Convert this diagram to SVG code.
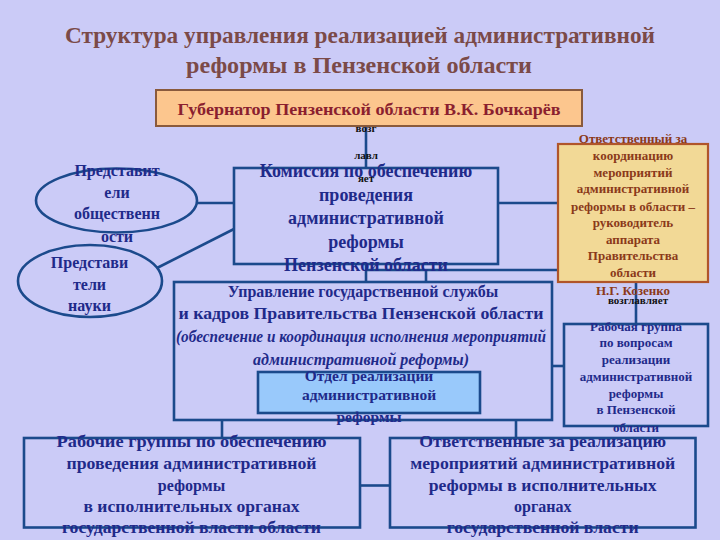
<svg xmlns="http://www.w3.org/2000/svg" width="720" height="540" viewBox="0 0 720 540">
<style>
text{font-family:"Liberation Serif","DejaVu Serif",serif;text-anchor:middle;dominant-baseline:central;font-weight:bold}
.title{fill:#7b4a48;font-size:23px}
.gov{fill:#8b1f2f;font-size:17px}
.blue{fill:#1f2a8a}
.brn{fill:#8b3a1a;font-size:13px}
.blk{fill:#111;font-size:11px}
.box{fill:none;stroke:#1b4a8c;stroke-width:2.6}
.ln{stroke:#1b4a8c;stroke-width:2.6;fill:none}
</style>
<rect width="720" height="540" fill="#cbcbf7"/>
<g id="title">
<text class="title" x="360" y="35" textLength="590" lengthAdjust="spacingAndGlyphs">Структура управления реализацией административной</text>
<text class="title" x="359" y="65" textLength="346" lengthAdjust="spacingAndGlyphs">реформы в Пензенской области</text>
</g>
<g id="connectors">
<line class="ln" x1="366" y1="126" x2="366" y2="168"/>
<line class="ln" x1="197" y1="203" x2="234" y2="203"/>
<line class="ln" x1="157" y1="268" x2="234" y2="229"/>
<line class="ln" x1="498" y1="203" x2="558" y2="203"/>
<line class="ln" x1="366" y1="264" x2="366" y2="282"/>
<line class="ln" x1="366" y1="270" x2="558" y2="270"/>
<line class="ln" x1="426" y1="270" x2="426" y2="282"/>
<line class="ln" x1="636" y1="282" x2="636" y2="324"/>
<line class="ln" x1="552" y1="366" x2="564" y2="366"/>
<line class="ln" x1="222" y1="420" x2="222" y2="438"/>
<line class="ln" x1="516" y1="420" x2="516" y2="438"/>
<line class="ln" x1="360" y1="485.5" x2="390" y2="485.5"/>
</g>
<g id="governor">
<rect x="156" y="90" width="426" height="36" fill="#fcc68e" stroke="#8a5a3c" stroke-width="2"/>
<text class="gov" x="369" y="109" textLength="383" lengthAdjust="spacingAndGlyphs">Губернатор Пензенской области В.К. Бочкарёв</text>
</g>
<g id="commission">
<rect class="box" x="234" y="168" width="264" height="96"/>
<text class="blue" font-size="18" x="366" y="171">Комиссия по обеспечению</text>
<text class="blue" font-size="18" x="366" y="195">проведения</text>
<text class="blue" font-size="18" x="366" y="218">административной</text>
<text class="blue" font-size="18" x="366" y="242">реформы</text>
<text class="blue" font-size="18" x="366" y="265">Пензенской области</text>
</g>
<g id="vozglavl-gov">
<text class="blk" x="366" y="128">возг</text>
<text class="blk" x="366" y="155">лавл</text>
<text class="blk" x="366" y="178">яет</text>
</g>
<g id="public">
<ellipse class="box" cx="116.5" cy="200.5" rx="80.5" ry="32"/>
<text class="blue" font-size="16" x="117" y="170">Представит</text>
<text class="blue" font-size="16" x="117" y="192">ели</text>
<text class="blue" font-size="16" x="117" y="213.5">общественн</text>
<text class="blue" font-size="16" x="117" y="236">ости</text>
</g>
<g id="science">
<ellipse class="box" cx="90" cy="281" rx="72" ry="36"/>
<text class="blue" font-size="16" x="89.5" y="262">Представи</text>
<text class="blue" font-size="16" x="89.5" y="284">тели</text>
<text class="blue" font-size="16" x="89.5" y="305.5">науки</text>
</g>
<g id="coordinator">
<rect x="558" y="144" width="150" height="138" fill="#f2d996" stroke="#b0552a" stroke-width="2.2"/>
<text class="brn" x="633" y="138">Ответственный за</text>
<text class="brn" x="633" y="155.5">координацию</text>
<text class="brn" x="633" y="172">мероприятий</text>
<text class="brn" x="633" y="188.7">административной</text>
<text class="brn" x="633" y="206">реформы в области –</text>
<text class="brn" x="633" y="222.4">руководитель</text>
<text class="brn" x="633" y="239">аппарата</text>
<text class="brn" x="633" y="255.5">Правительства</text>
<text class="brn" x="633" y="272.7">области</text>
<text class="brn" x="633" y="290">Н.Г. Козенко</text>
<text class="blk" font-size="10" x="638" y="300">возглавляет</text>
</g>
<g id="upravlenie">
<rect class="box" x="174" y="282" width="378" height="138"/>
<text class="blue" font-size="16" x="363" y="291">Управление государственной службы</text>
<text class="blue" font-size="16" x="361" y="313" textLength="365" lengthAdjust="spacingAndGlyphs">и кадров Правительства Пензенской области</text>
<text class="blue" font-size="16" font-style="italic" font-weight="normal" x="361" y="336" textLength="370" lengthAdjust="spacingAndGlyphs">(обеспечение и координация исполнения мероприятий</text>
<text class="blue" font-size="16" font-style="italic" font-weight="normal" x="361" y="359" textLength="216" lengthAdjust="spacingAndGlyphs">административной реформы)</text>
</g>
<g id="otdel">
<rect x="258" y="372" width="222" height="41" fill="#99c9fb" stroke="#1b4a8c" stroke-width="2.6"/>
<text class="blue" font-size="15.5" x="369" y="375">Отдел реализации</text>
<text class="blue" font-size="15.5" x="369" y="394">административной</text>
<text class="blue" font-size="15.5" x="369" y="416.5">реформы</text>
</g>
<g id="workgroup">
<rect class="box" x="564" y="324" width="144" height="102"/>
<text class="blue" font-size="13" x="636" y="326">Рабочая группа</text>
<text class="blue" font-size="13" x="636" y="342.6">по вопросам</text>
<text class="blue" font-size="13" x="636" y="359">реализации</text>
<text class="blue" font-size="13" x="636" y="376">административной</text>
<text class="blue" font-size="13" x="636" y="393">реформы</text>
<text class="blue" font-size="13" x="636" y="409.8">в Пензенской</text>
<text class="blue" font-size="13" x="636" y="427">области</text>
</g>
<g id="groups-bottom">
<rect class="box" x="24" y="438" width="336" height="89.5"/>
<text class="blue" font-size="16" x="191.5" y="441.5" textLength="270" lengthAdjust="spacingAndGlyphs">Рабочие группы по обеспечению</text>
<text class="blue" font-size="16" x="191.5" y="463" textLength="250" lengthAdjust="spacingAndGlyphs">проведения административной</text>
<text class="blue" font-size="16" x="191.5" y="485">реформы</text>
<text class="blue" font-size="16" x="191.5" y="506" textLength="216" lengthAdjust="spacingAndGlyphs">в исполнительных органах</text>
<text class="blue" font-size="16" x="191.5" y="527.5" textLength="259" lengthAdjust="spacingAndGlyphs">государственной власти области</text>
</g>
<g id="responsible-bottom">
<rect class="box" x="390" y="438" width="305.5" height="89.5"/>
<text class="blue" font-size="16" x="542.7" y="441.5" textLength="247" lengthAdjust="spacingAndGlyphs">Ответственные за реализацию</text>
<text class="blue" font-size="16" x="542.7" y="463" textLength="265" lengthAdjust="spacingAndGlyphs">мероприятий административной</text>
<text class="blue" font-size="16" x="542.7" y="485" textLength="228" lengthAdjust="spacingAndGlyphs">реформы в исполнительных</text>
<text class="blue" font-size="16" x="542.7" y="506">органах</text>
<text class="blue" font-size="16" x="542.7" y="527.5" textLength="192" lengthAdjust="spacingAndGlyphs">государственной власти</text>
</g>
</svg>
